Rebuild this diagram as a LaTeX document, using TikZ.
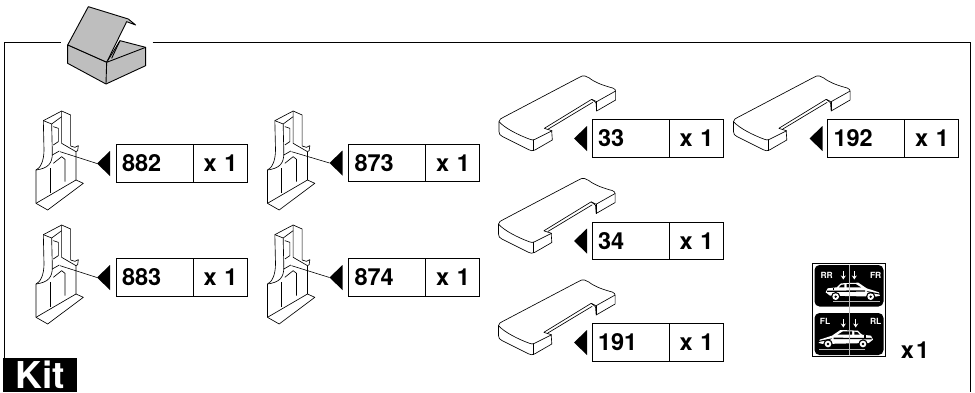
\documentclass[tikz,border=0pt]{standalone}
\usepackage{fontspec}
\setmainfont{TeX Gyre Heros}
\newfontfamily\qtyfont[WordSpace=0.35]{TeX Gyre Heros}
\usetikzlibrary{shapes.geometric, arrows.meta, positioning}
\definecolor{lidgray}{HTML}{BEBEBE}
\definecolor{decalgray}{HTML}{B8B8B8}
\tikzset{
    partline/.style={line width=0.65pt, line join=round, fill=white},
    thinline/.style={line width=0.65pt, line join=round},
    leader/.style={line width=0.6pt},
    numbox/.style={rectangle, draw, line width=0.8pt, outer sep=0pt, inner xsep=6pt, inner ysep=0pt,
                   text width=65pt, minimum height=37.5pt, align=left,
                   font=\fontsize{23.5}{25}\selectfont\bfseries},
    qtybox/.style={rectangle, draw, line width=0.8pt, outer sep=0pt, inner xsep=9.5pt, inner ysep=0pt,
                   text width=35pt, minimum height=37.5pt, align=right,
                   font=\qtyfont\fontsize{23.5}{25}\selectfont\bfseries},
    qtytext/.style={font=\qtyfont\fontsize{23.5}{25}\selectfont\bfseries, inner sep=0pt},
    tipmark/.style={isosceles triangle, shape border rotate=180, isosceles triangle stretches,
                    fill=black, inner sep=0pt, outer sep=0pt, minimum width=25pt, minimum height=13pt},
    decaltext/.style={text=white, inner sep=0pt, font=\fontsize{8.5}{9}\selectfont\bfseries},
    decalarrow/.style={white, line width=1.1pt, -{Stealth[length=4pt, width=5pt]}},
    kitlabel/.style={rectangle, fill=black, text=white, inner sep=0pt, minimum width=74pt,
                     minimum height=34pt, font=\fontsize{37}{40}\selectfont\bfseries},
    bracketpart/.pic={
        \begin{scope}[x=0.3333pt, y=-0.3333pt]
        \draw[partline] (48,210) -- (48,310) -- (83,330) -- (190,250) -- (168,240) -- (168,155)
            -- (173,152) -- (175,137) -- (165,142) -- (152,138) -- (152,45) -- (125,33) -- (70,62)
            -- (72,150) .. controls (72,185) and (60,205) .. (48,210);
        \draw[thinline] (70,62) -- (95,72) -- (125,50);
        \draw[thinline] (125,33) -- (125,130) -- (168,155);
        \draw[thinline] (95,72) -- (97,160) .. controls (97,190) and (85,205) .. (48,210);
        \draw[thinline] (100,80) -- (115,85) -- (115,125) -- (100,135);
        \draw[thinline] (97,165) -- (118,153);
        \draw[thinline] (100,190) -- (125,170) -- (135,178) -- (135,245);
        \draw[thinline] (90,205) -- (90,280);
        \draw[thinline] (48,310) -- (168,240);
        \coordinate (-lead) at (120,155);
        \end{scope}
    },
    blockpart/.pic={
        \begin{scope}[x=0.3333pt, y=-0.3333pt]
        \draw[partline] (57,185) .. controls (57,178) and (64,175) .. (70,172) -- (298,52)
            .. controls (310,44) and (320,48) .. (328,54) .. controls (345,68) and (375,78) .. (398,84)
            .. controls (405,86) and (407,90) .. (407,95) -- (407,120) -- (350,153) -- (348,128) -- (335,118)
            -- (193,205) -- (215,212) -- (217,240) -- (165,270) .. controls (158,274) and (152,272) .. (146,269)
            -- (68,230) .. controls (60,226) and (57,222) .. (57,215) -- cycle;
        \draw[thinline] (57,185) .. controls (75,205) and (115,225) .. (150,238)
            .. controls (155,240) and (160,241) .. (165,238) -- (217,212);
        \draw[thinline] (160,240) -- (160,272);
        \draw[thinline] (407,93) -- (350,125) -- (335,118);
        \draw[thinline] (350,125) -- (350,153);
        \draw[thinline] (205,207) -- (338,127);
        \end{scope}
    },
    carpart/.pic={
        \begin{scope}[x=0.3333pt, y=-0.3333pt]
        \fill[white] (68,100) -- (95,97) -- (108,85) -- (160,83) -- (185,100) -- (222,112) -- (225,122)
            -- (212,125) -- (75,122) -- (62,112) -- cycle;
        \fill[black] (125,87) -- (125,97) -- (168,97) -- (152,87) -- cycle;
        \fill[black] (108,90) -- (118,88) -- (118,97) -- (102,97) -- cycle;
        \fill[black] (66,107) -- (180,106) -- (180,110) -- (66,111) -- cycle;
        \fill[black] (185,108) -- (225,116) -- (225,119) -- (190,112) -- cycle;
        \fill[black] (84,98) -- (88,98) -- (88,106) -- (84,106) -- cycle;
        \fill[black] (92,125) circle (14);
        \fill[white] (92,125) circle (10);
        \fill[black] (92,125) circle (4);
        \fill[black] (197,125) circle (14);
        \fill[white] (197,125) circle (10);
        \fill[black] (197,125) circle (4);
        \draw[decalgray, line width=0.8pt] (85,140) -- (225,140);
        \end{scope}
    },
}
\begin{document}
\begin{tikzpicture}[x=1pt, y=-1pt]
\useasboundingbox (0,0) rectangle (975,392);

\draw[line width=0.9pt] (60.5,42.5) -- (4.5,42.5) -- (4.5,358);
\draw[line width=0.9pt] (152.5,42.5) -- (970.5,42.5) -- (970.5,392);

\begin{scope}[x=0.3333pt, y=-0.3333pt]
\draw[line width=0.9pt, line join=round, fill=lidgray] (203,135) -- (265,20) -- (385,57) -- (407,75) -- (380,65) -- (320,187) -- cycle;
\draw[line width=0.9pt, line join=round, fill=lidgray] (203,135) -- (203,190) -- (318,252) -- (437,197) -- (437,142) -- (360,122) -- (320,187) -- cycle;
\draw[line width=0.9pt, line join=round] (320,187) -- (437,142);
\draw[line width=0.9pt, line join=round] (320,187) -- (318,252);
\draw[line width=0.9pt, line join=round] (335,175) -- (360,122);
\end{scope}

\pic (b882) at (20,100) {bracketpart};
\pic (b873) at (251.5,100) {bracketpart};
\pic (b883) at (20,214) {bracketpart};
\pic (b874) at (251.5,214) {bracketpart};

\pic at (480,60) {blockpart};
\pic at (714.5,60) {blockpart};
\pic at (479.5,162.5) {blockpart};
\pic at (479.5,264) {blockpart};

\node[numbox] (n882) at (154.5,163.5) {882};
\node[qtybox, right=0pt of n882] (q882) {x 1};
\node[tipmark, left=6pt of n882] (t882) {};
\node[numbox] (n873) at (387,163) {873};
\node[qtybox, right=0pt of n873] (q873) {x 1};
\node[tipmark, left=6pt of n873] (t873) {};
\node[numbox] (n883) at (154.5,277.5) {883};
\node[qtybox, right=0pt of n883] (q883) {x 1};
\node[tipmark, left=6pt of n883] (t883) {};
\node[numbox] (n874) at (387,277.5) {874};
\node[qtybox, right=0pt of n874] (q874) {x 1};
\node[tipmark, left=6pt of n874] (t874) {};
\node[numbox] (n33) at (630.5,138.5) {33};
\node[qtybox, right=0pt of n33] (q33) {x 1};
\node[tipmark, left=5pt of n33] (t33) {};
\node[numbox] (n192) at (866,138.5) {192};
\node[qtybox, right=0pt of n192] (q192) {x 1};
\node[tipmark, left=5pt of n192] (t192) {};
\node[numbox] (n34) at (630.5,241) {34};
\node[qtybox, right=0pt of n34] (q34) {x 1};
\node[tipmark, left=5pt of n34] (t34) {};
\node[numbox] (n191) at (630.5,342.5) {191};
\node[qtybox, right=0pt of n191] (q191) {x 1};
\node[tipmark, left=5pt of n191] (t191) {};

\draw[leader] (b882-lead) -- (t882.west);
\draw[leader] (b873-lead) -- (t873.west);
\draw[leader] (b883-lead) -- (t883.west);
\draw[leader] (b874-lead) -- (t874.west);

\draw[line width=0.9pt, fill=white] (812.5,263.5) rectangle (885,356.5);
\fill[black, rounded corners=5pt] (814.5,265) rectangle (883.5,306.5);
\fill[black, rounded corners=5pt] (814.5,313) rectangle (883.5,355);
\pic at (805,255) {carpart};
\pic[xscale=-1] at (893.67,302.33) {carpart};
\draw[decalgray, line width=0.9pt] (849,265) -- (849,355);
\node[decaltext] (rr) at (826.7,275) {RR};
\node[decaltext] (fr) at (875.7,275) {FR};
\node[decaltext] (fl) at (825,321.7) {FL};
\node[decaltext] (rl) at (875.7,321.7) {RL};
\draw[decalarrow] (843.3,271) -- (843.3,279.5);
\draw[decalarrow] (854.3,271) -- (854.3,279.5);
\draw[decalarrow] (843.3,319) -- (843.3,327.5);
\draw[decalarrow] (855.7,319) -- (855.7,327.5);
\node[qtytext] (qdecal) at (915,350) {x 1};

\node[kitlabel] (kit) at (40,375) {Kit};
\end{tikzpicture}
\end{document}
